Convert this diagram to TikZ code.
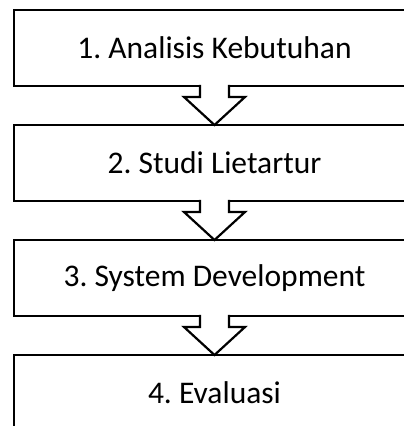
\documentclass[tikz,border=0pt]{standalone}
\usepackage{fontspec}
\setmainfont{Carlito}
\usepackage{tikz}
\usetikzlibrary{positioning, calc}
\frenchspacing
\tikzset{
  stepbox/.style={rectangle, draw, line width=2.2pt, fill=white, minimum width=401pt, minimum height=76pt, outer sep=0pt, align=center, font=\fontsize{31.5}{36}\selectfont},
  blockarr/.style={draw, fill=white, line width=2.2pt, line join=miter},
}
% hollow block arrow from the bottom of #1 to the top of #2
\newcommand{\blockarrow}[2]{%
  \filldraw[blockarr] ($(#1.south)+(-14.5pt,1.2pt)$) -- ($(#1.south)+(-14.5pt,-11pt)$)
    -- ($(#1.south)+(-30.5pt,-11pt)$) -- (#2.north)
    -- ($(#1.south)+(30.5pt,-11pt)$) -- ($(#1.south)+(14.5pt,-11pt)$)
    -- ($(#1.south)+(14.5pt,1.2pt)$);
}

\begin{document}
\begin{tikzpicture}[node distance=39pt]
  \useasboundingbox (0,0) rectangle (404pt,-426pt);

  % Steps
  \node[stepbox] (s1) at (214.5pt,-48pt) {1. Analisis Kebutuhan};
  \node[stepbox, below=of s1] (s2) {2. Studi Lietartur};
  \node[stepbox, below=of s2] (s3) {3. System Development};
  \node[stepbox, below=of s3] (s4) {4. Evaluasi};

  % Arrows
  \blockarrow{s1}{s2}
  \blockarrow{s2}{s3}
  \blockarrow{s3}{s4}
\end{tikzpicture}
\end{document}
